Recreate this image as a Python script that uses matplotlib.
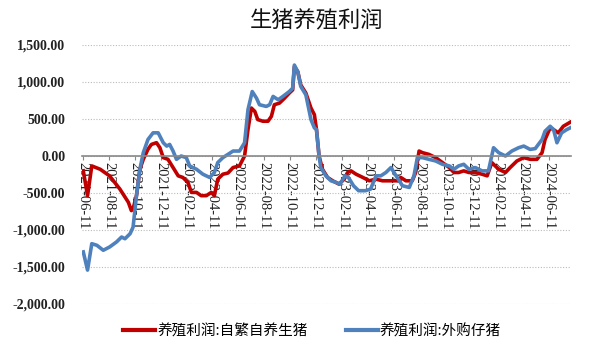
import matplotlib
matplotlib.use("Agg")
import matplotlib.pyplot as plt
import pandas as pd

plt.rcParams['font.family'] = ['Noto Sans CJK SC', 'DejaVu Sans']

title = "生猪养殖利润"
label_red = "养殖利润:自繁自养生猪"
label_blue = "养殖利润:外购仔猪"

red_dates = ["2021-06-12", "2021-06-22", "2021-07-02", "2021-07-22", "2021-08-13", "2021-09-06",
             "2021-09-26", "2021-10-03", "2021-10-07", "2021-10-15", "2021-10-23", "2021-10-31",
             "2021-11-11", "2021-11-19", "2021-12-01", "2021-12-09", "2021-12-17", "2021-12-28",
             "2022-01-09", "2022-01-21", "2022-02-01", "2022-02-13", "2022-02-21", "2022-03-05",
             "2022-03-16", "2022-03-28", "2022-04-09", "2022-04-16", "2022-04-24", "2022-05-06",
             "2022-05-18", "2022-05-30", "2022-06-14", "2022-06-26", "2022-07-04", "2022-07-12",
             "2022-07-20", "2022-07-27", "2022-08-08", "2022-08-20", "2022-08-28", "2022-09-04",
             "2022-09-16", "2022-09-28", "2022-10-09", "2022-10-17", "2022-10-21", "2022-10-29",
             "2022-11-05", "2022-11-17", "2022-11-29", "2022-12-07", "2022-12-12", "2022-12-18",
             "2022-12-26", "2023-01-07", "2023-01-19", "2023-02-03", "2023-02-15", "2023-02-23",
             "2023-03-03", "2023-03-15", "2023-03-31", "2023-04-15", "2023-05-01", "2023-05-16",
             "2023-06-08", "2023-06-20", "2023-06-28", "2023-07-10", "2023-07-25", "2023-08-02",
             "2023-08-10", "2023-08-18", "2023-09-02", "2023-09-18", "2023-10-04", "2023-10-20",
             "2023-10-31", "2023-11-11", "2023-11-23", "2023-12-05", "2023-12-20", "2024-01-05",
             "2024-01-17", "2024-01-28", "2024-02-13", "2024-02-29", "2024-03-11", "2024-03-27",
             "2024-04-12", "2024-04-27", "2024-05-13", "2024-05-25", "2024-06-01", "2024-06-13",
             "2024-06-21", "2024-07-02", "2024-07-14", "2024-07-30"]
red_values = [-200, -536, -134, -180, -270, -447,
              -626, -738, -715, -536, -180, -45,
              90, 156, 180, 112, -22, -45,
              -156, -268, -290, -358, -492, -492,
              -536, -536, -492, -536, -313, -246,
              -230, -156, -134, 0, 357, 648,
              603, 492, 470, 470, 536, 693,
              715, 782, 850, 894, 1207, 1140,
              961, 850, 648, 559, 357, 0,
              -179, -290, -335, -380, -313, -223,
              -201, -246, -290, -335, -313, -335,
              -335, -335, -290, -335, -335, -223,
              67, 45, 22, -22, -89, -156,
              -223, -223, -201, -223, -223, -246,
              -268, -89, -179, -223, -156, -67,
              -22, -45, -45, 45, 223, 380,
              357, 313, 402, 456]

blue_dates = ["2021-06-12", "2021-06-22", "2021-07-02", "2021-07-14", "2021-07-29", "2021-08-13",
              "2021-08-29", "2021-09-10", "2021-09-18", "2021-09-30", "2021-10-07", "2021-10-15",
              "2021-10-23", "2021-10-31", "2021-11-11", "2021-11-23", "2021-12-05", "2021-12-17",
              "2021-12-25", "2022-01-01", "2022-01-09", "2022-01-17", "2022-01-28", "2022-02-09",
              "2022-02-17", "2022-03-05", "2022-03-20", "2022-04-05", "2022-04-16", "2022-04-24",
              "2022-05-06", "2022-05-18", "2022-05-30", "2022-06-14", "2022-06-26", "2022-07-04",
              "2022-07-14", "2022-07-24", "2022-07-31", "2022-08-16", "2022-08-24", "2022-09-01",
              "2022-09-13", "2022-09-24", "2022-10-09", "2022-10-17", "2022-10-21", "2022-10-29",
              "2022-11-05", "2022-11-17", "2022-11-29", "2022-12-07", "2022-12-12", "2022-12-18",
              "2022-12-22", "2023-01-03", "2023-01-15", "2023-01-27", "2023-02-05", "2023-02-17",
              "2023-02-25", "2023-03-09", "2023-03-21", "2023-04-06", "2023-04-18", "2023-05-01",
              "2023-05-12", "2023-05-24", "2023-06-05", "2023-06-17", "2023-07-02", "2023-07-18",
              "2023-07-29", "2023-08-06", "2023-08-18", "2023-09-02", "2023-09-18", "2023-10-04",
              "2023-10-20", "2023-10-31", "2023-11-11", "2023-11-23", "2023-12-05", "2023-12-20",
              "2024-01-05", "2024-01-20", "2024-02-01", "2024-02-13", "2024-02-29", "2024-03-15",
              "2024-03-31", "2024-04-12", "2024-04-27", "2024-05-09", "2024-05-25", "2024-06-01",
              "2024-06-13", "2024-06-21", "2024-06-29", "2024-07-10", "2024-07-22", "2024-07-30"]
blue_values = [-1296, -1542, -1185, -1207, -1274, -1229,
               -1162, -1095, -1118, -1050, -961, -536,
               -180, 45, 223, 313, 313, 179,
               134, 156, 67, -45, 0, -22,
               -134, -179, -246, -290, -223, -89,
               -22, 22, 67, 67, 179, 626,
               871, 782, 693, 670, 693, 805,
               760, 805, 871, 916, 1229, 1140,
               940, 827, 492, 380, 357, 0,
               -156, -268, -335, -357, -380, -268,
               -290, -402, -469, -469, -447, -268,
               -268, -223, -156, -268, -402, -425,
               -268, -22, -22, -45, -67, -112,
               -134, -179, -134, -112, -179, -156,
               -201, -201, 112, 45, 0, 67,
               112, 134, 89, 100, 223, 335,
               402, 357, 179, 313, 357, 380]

tick_dates = ["2021-06-11", "2021-08-11", "2021-10-11", "2021-12-11", "2022-02-11", "2022-04-11",
              "2022-06-11", "2022-08-11", "2022-10-11", "2022-12-11", "2023-02-11", "2023-04-11",
              "2023-06-11", "2023-08-11", "2023-10-11", "2023-12-11", "2024-02-11", "2024-04-11",
              "2024-06-11"]
y_ticks = [1500, 1000, 500, 0, -500, -1000, -1500, -2000]

red_x = pd.to_datetime(red_dates)
blue_x = pd.to_datetime(blue_dates)
tx = pd.to_datetime(tick_dates)

fig = plt.figure(figsize=(6.0, 3.56), dpi=100)
ax = fig.add_axes([82/600, 1 - 304/356, (571-82)/600, (304-45)/356])

ax.plot(red_x, red_values, color="#C00000", lw=2.6, label=label_red, solid_joinstyle="round")
ax.plot(blue_x, blue_values, color="#4F81BD", lw=2.6, label=label_blue, solid_joinstyle="round")

ax.set_ylim(-2000, 1500)
ax.set_xlim(pd.Timestamp("2021-06-09"), pd.Timestamp("2024-08-01"))
ax.set_yticks(y_ticks)
ax.set_yticklabels([f"{v:,.2f}" for v in y_ticks], fontsize=10, color="#222222",
                   family=['Liberation Serif'], fontweight='bold')
ax.yaxis.grid(True, linestyle=(0, (1, 1.5)), color="#BBBBBB", lw=0.8)
ax.tick_params(axis='y', length=0, pad=12)

for s in ['top', 'right', 'left']:
    ax.spines[s].set_visible(False)
ax.spines['bottom'].set_position(('data', 0))
ax.spines['bottom'].set_color("#888888")
ax.spines['bottom'].set_linewidth(1.2)
ax.set_xticks(tx)
ax.set_xticklabels(tick_dates, rotation=-90, fontsize=10.5, color="#222222",
                   family=['Liberation Serif'])
ax.tick_params(axis='x', direction='out', length=3, color="#888888", pad=1.5)

fig.text(317/600, 1 - 21/356, title, ha='center', va='center', fontsize=16, color="#111111")

leg = fig.legend(loc='center left', bbox_to_anchor=(110/600, 1 - 331/356), ncol=2, frameon=False,
                 fontsize=10.5, handlelength=2.2, columnspacing=2.6, handletextpad=0.15)
for line in leg.get_lines():
    line.set_linewidth(3)

fig.savefig("out.png", dpi=100)
